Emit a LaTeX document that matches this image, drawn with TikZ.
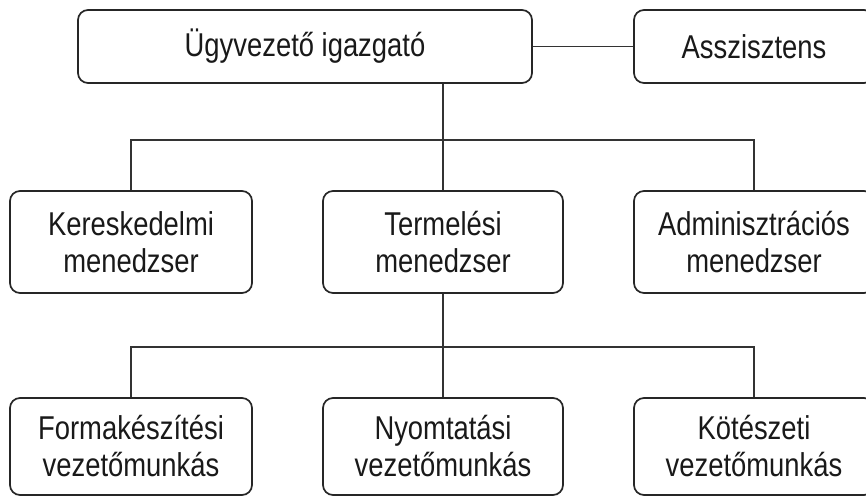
\documentclass[tikz,border=0pt]{standalone}
\usepackage{fontspec}
\setmainfont{Liberation Sans}[FakeStretch=0.83]
\begin{document}
\begin{tikzpicture}[x=1pt,y=-1pt,
  box/.style={draw=black!85, line width=1.7pt, rounded corners=10pt,
    minimum width=#1, inner sep=0pt, align=center, text=black!90,
    font=\fontsize{33}{37}\selectfont},
  box/.default=240pt,
  link/.style={draw=black!80, line width=1.4pt}]
  \clip (0,0) rectangle (866,497);
  \fill[white] (0,0) rectangle (866,497);

  % top level
  \node[box=454pt, minimum height=73pt] (ceo)  at (305,46.5) {Ügyvezető igazgató};
  \node[box, minimum height=73pt]       (asst) at (754,46.5) {Asszisztens};

  % managers
  \node[box=242pt, minimum height=102pt] (ker) at (131,242) {Kereskedelmi\\menedzser};
  \node[box, minimum height=102pt]       (ter) at (443,242) {Termelési\\menedzser};
  \node[box, minimum height=102pt]       (adm) at (754,242) {Adminisztrációs\\menedzser};

  % foremen
  \node[box=242pt, minimum height=97pt] (frm) at (131,446.5) {Formakészítési\\vezetőmunkás};
  \node[box, minimum height=97pt]       (nyo) at (443,446.5) {Nyomtatási\\vezetőmunkás};
  \node[box, minimum height=97pt]       (kot) at (754,446.5) {Kötészeti\\vezetőmunkás};

  % connectors
  \coordinate (busA) at (443,140);
  \coordinate (busB) at (443,347);
  \draw[link] (ceo.east) -- (asst.west);
  \draw[link] (ceo.south -| ter.north) -- (ter.north);
  \draw[link] (ker.north) |- (busA) -| (adm.north);
  \draw[link] (ter.south) -- (nyo.north);
  \draw[link] (frm.north) |- (busB) -| (kot.north);
\end{tikzpicture}
\end{document}
